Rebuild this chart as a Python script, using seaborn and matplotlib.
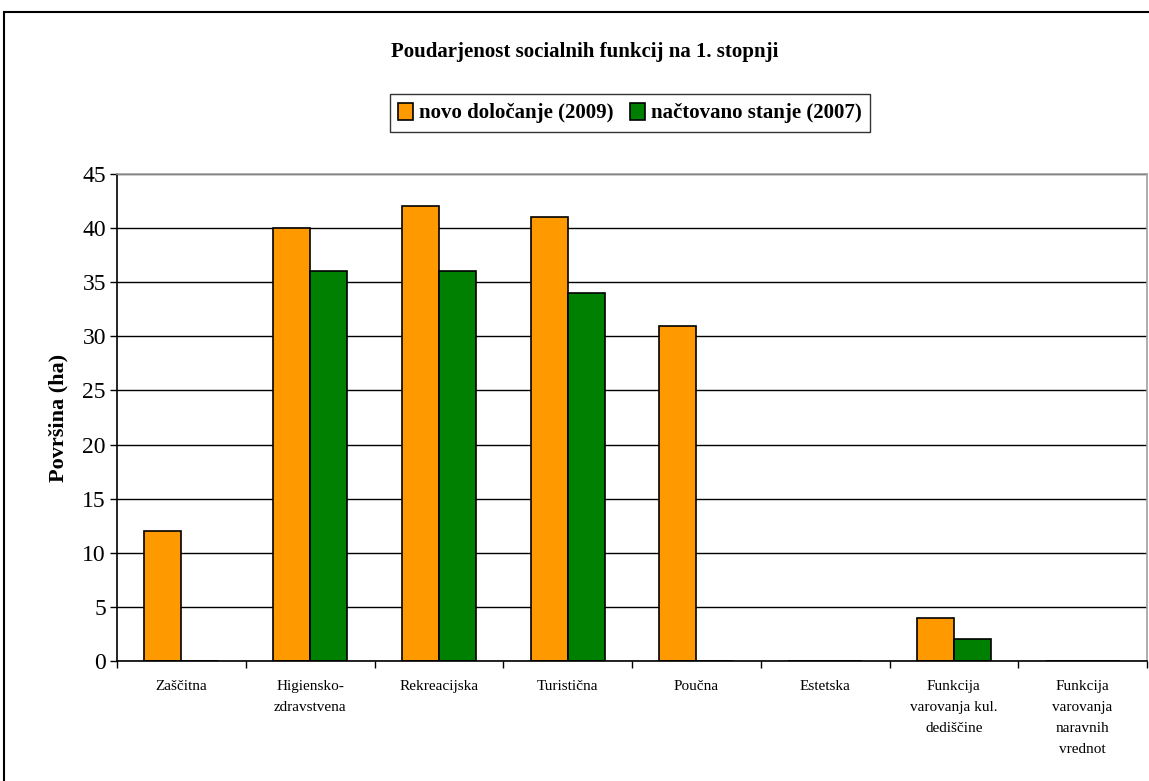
import pandas as pd
import matplotlib.pyplot as plt
import matplotlib.patches as mpatches
import seaborn as sns

categories = ["Zaščitna", "Higiensko-\nzdravstvena", "Rekreacijska", "Turistična",
              "Poučna", "Estetska", "Funkcija\nvarovanja kul.\ndediščine",
              "Funkcija\nvarovanja\nnaravnih\nvrednot"]
novo_2009 = [12, 40, 42, 41, 31, 0, 4, 0]
nacrt_2007 = [0, 36, 36, 34, 0, 0, 2, 0]
series = ["novo določanje (2009)", "načtovano stanje (2007)"]

df = pd.DataFrame({
    "kat": categories * 2,
    "val": novo_2009 + nacrt_2007,
    "serija": [series[0]] * len(categories) + [series[1]] * len(categories),
})

sns.set_style("white")
plt.rcParams["font.family"] = ["Liberation Serif", "DejaVu Serif"]
plt.rcParams["text.color"] = "black"
plt.rcParams["axes.labelcolor"] = "black"
plt.rcParams["xtick.color"] = "black"
plt.rcParams["ytick.color"] = "black"

fig = plt.figure(figsize=(11.49, 7.81), dpi=100)
ax = fig.add_axes([117 / 1149, 1 - 661 / 781, 1030 / 1149, 487 / 781])

sns.barplot(data=df, x="kat", y="val", hue="serija", order=categories,
            palette=["#FF9900", "#008000"], saturation=1, width=0.575,
            edgecolor="black", linewidth=1.2, ax=ax, legend=True)

ax.set_ylim(0, 45)
ax.set_xlim(-0.5, len(categories) - 0.5)
ax.set_yticks(range(0, 46, 5))
ax.tick_params(axis="y", labelsize=17, length=5, width=1, direction="out", left=True, pad=3)
ax.set_xticks([i + 0.5 for i in range(-1, len(categories))], minor=True)
ax.set_xticks(range(len(categories)))
ax.set_xticklabels(categories, fontsize=11, linespacing=1.8, va="top")
ax.tick_params(axis="x", which="major", length=0, pad=14)
ax.tick_params(axis="x", which="minor", length=5, width=1, direction="out", bottom=True)
ax.yaxis.grid(True, color="black", linewidth=1)
ax.set_axisbelow(True)
for s in ["left", "bottom"]:
    ax.spines[s].set_color("black")
    ax.spines[s].set_linewidth(1.2)
for s in ["top", "right"]:
    ax.spines[s].set_color("#A0A0A0")
    ax.spines[s].set_linewidth(1.2)
ax.set_xlabel("")
ax.set_ylabel("Površina (ha)", fontsize=16, fontweight="bold", labelpad=10)

handles, labels = ax.get_legend_handles_labels()
ax.get_legend().remove()
leg = fig.legend(handles, labels, loc="center", bbox_to_anchor=(630 / 1149, 1 - 113 / 781),
                 ncol=2, frameon=True, fancybox=False, edgecolor="black",
                 prop={"size": 15, "weight": "bold"}, handlelength=0.7, handleheight=0.9,
                 handletextpad=0.3, columnspacing=0.8, borderpad=0.4)
leg.get_frame().set_linewidth(1)

fig.text(585 / 1149, 1 - 52 / 781, "Poudarjenost socialnih funkcij na 1. stopnji",
         ha="center", va="center", fontsize=15, fontweight="bold")

fig.patches.append(mpatches.Rectangle((4 / 1149, -0.1), 1.2, 1 - 12 / 781 + 0.1,
                                      transform=fig.transFigure, fill=False,
                                      edgecolor="black", linewidth=1.5))

fig.savefig("out.png", dpi=100)
